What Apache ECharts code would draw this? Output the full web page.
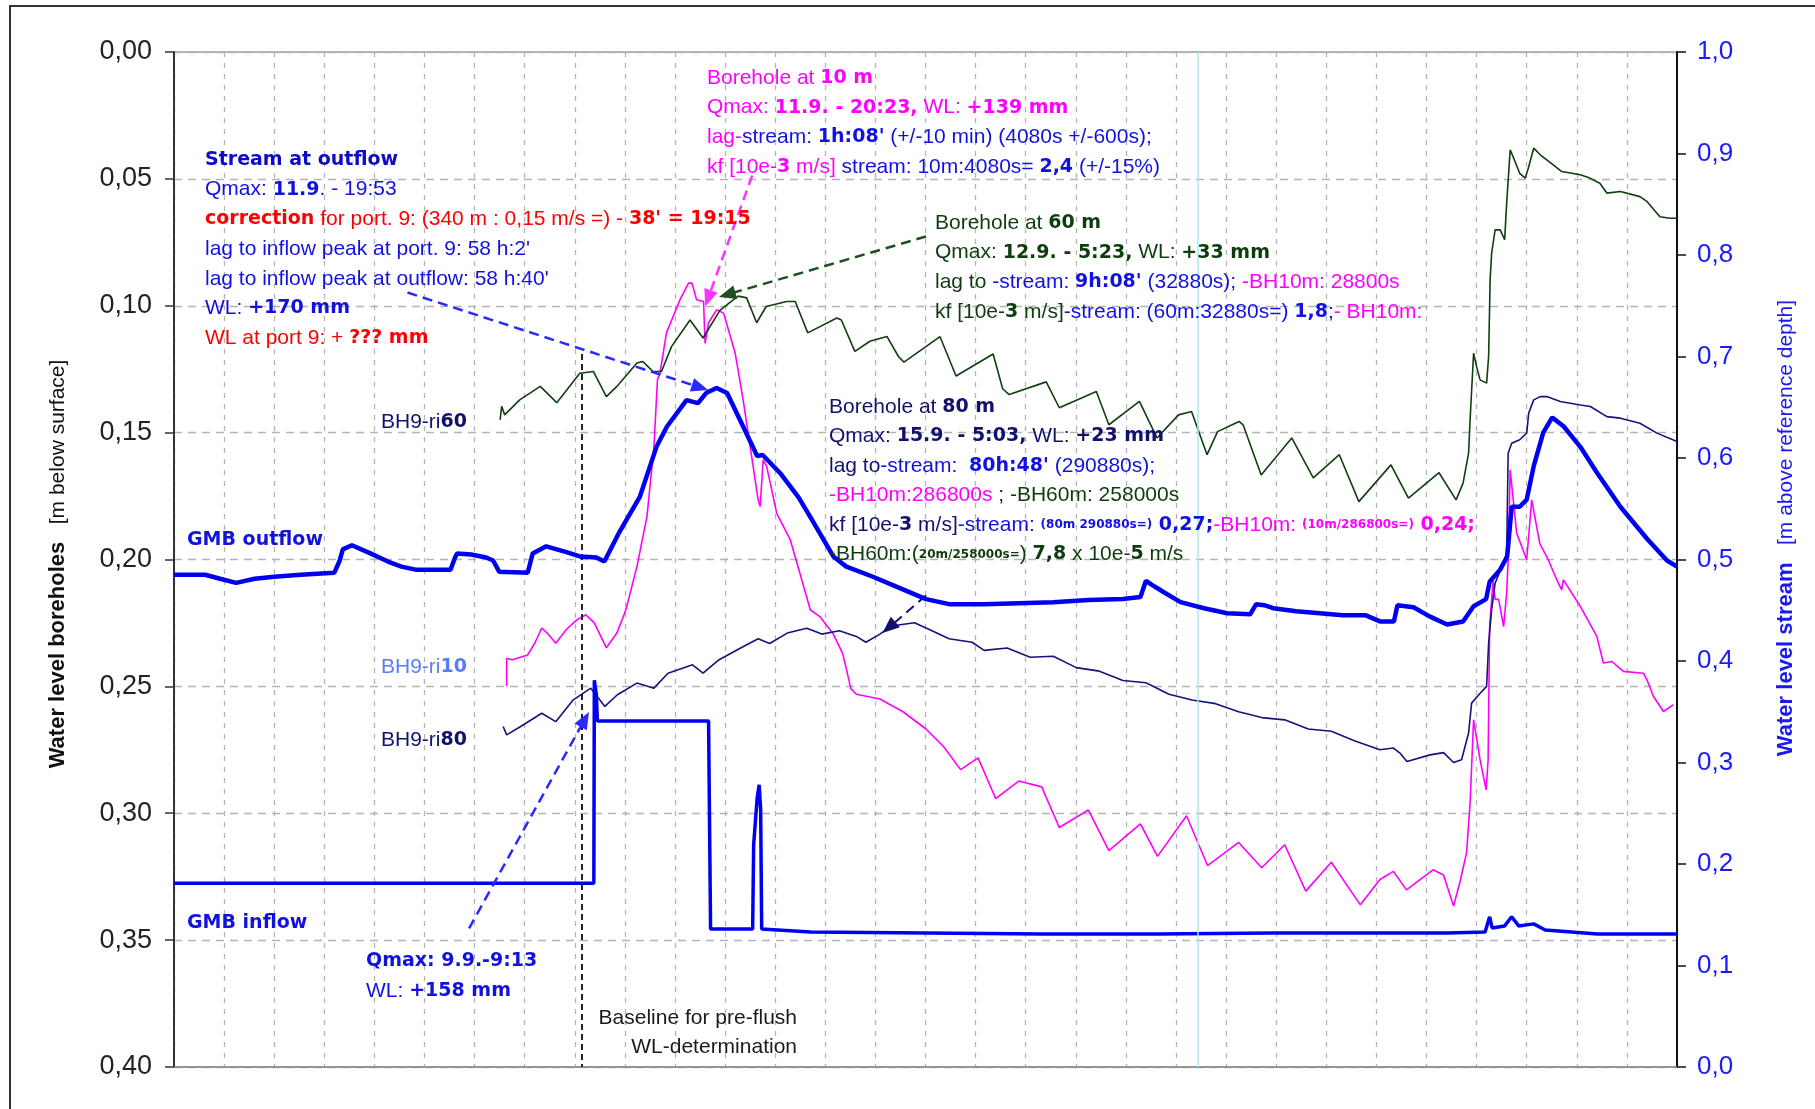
<!DOCTYPE html>
<html>
<head>
<meta charset="utf-8">
<script src="https://cdn.jsdelivr.net/npm/echarts@6/dist/echarts.min.js"></script>
<style>
  html, body { margin: 0; padding: 0; background: #fff; }
  #chart { width: 1815px; height: 1109px; }
</style>
</head>
<body>
<div id="chart"></div>
<script>
// x: days since 1 Sep 00:00 (one grid column = one day)
// stream levels [m above reference depth]
const gmbOutflow = [[0,0.485],[0.62,0.485],[0.92,0.481],[1.24,0.477],[1.61,0.481],[2.00,0.483],[2.53,0.485],[3.20,0.487],[3.30,0.498],[3.37,0.510],[3.55,0.514],[3.92,0.506],[4.27,0.498],[4.54,0.493],[4.82,0.490],[5.52,0.490],[5.61,0.502],[5.65,0.506],[5.93,0.505],[6.23,0.502],[6.37,0.499],[6.49,0.488],[7.06,0.487],[7.16,0.506],[7.43,0.513],[7.85,0.507],[8.10,0.503],[8.43,0.502],[8.59,0.498],[8.89,0.527],[9.30,0.562],[9.63,0.611],[9.84,0.631],[10.23,0.657],[10.46,0.654],[10.62,0.664],[10.83,0.669],[11.04,0.664],[11.36,0.631],[11.64,0.602],[11.75,0.603],[12.10,0.585],[12.47,0.561],[12.77,0.536],[13.16,0.503],[13.42,0.493],[13.95,0.483],[14.43,0.473],[15.01,0.461],[15.47,0.456],[16.17,0.456],[16.86,0.457],[17.55,0.458],[18.25,0.460],[18.94,0.461],[19.29,0.463],[19.40,0.479],[19.52,0.475],[19.75,0.468],[20.09,0.458],[20.56,0.452],[21.02,0.447],[21.48,0.446],[21.60,0.456],[21.76,0.455],[21.94,0.452],[22.40,0.449],[22.87,0.447],[23.33,0.445],[23.79,0.445],[24.07,0.439],[24.35,0.439],[24.42,0.455],[24.74,0.453],[25.06,0.444],[25.41,0.436],[25.73,0.439],[25.94,0.454],[26.19,0.461],[26.26,0.478],[26.47,0.490],[26.61,0.503],[26.70,0.552],[26.86,0.552],[27.00,0.559],[27.14,0.592],[27.33,0.625],[27.51,0.640],[27.74,0.631],[28.07,0.611],[28.41,0.585],[28.87,0.552],[29.41,0.520],[29.80,0.499],[30,0.493]];

const gmbInflow = [[0,0.181],[8.38,0.181],[8.39,0.381],[8.43,0.367],[8.45,0.341],[10.67,0.341],[10.71,0.136],[11.55,0.136],[11.57,0.219],[11.64,0.265],[11.68,0.278],[11.71,0.253],[11.73,0.136],[12.70,0.133],[15.01,0.132],[17.32,0.131],[19.63,0.131],[21.94,0.132],[25.41,0.132],[26.17,0.133],[26.26,0.148],[26.31,0.137],[26.56,0.139],[26.70,0.148],[26.84,0.139],[27.14,0.141],[27.37,0.135],[28.41,0.131],[30,0.131]];

// borehole levels [m below surface]
const bh60 = [[6.51,0.1450],[6.54,0.1396],[6.60,0.1430],[6.90,0.1371],[7.31,0.1318],[7.64,0.1382],[8.10,0.1266],[8.37,0.1259],[8.63,0.1358],[8.84,0.1318],[9.24,0.1226],[9.36,0.1220],[9.56,0.1259],[9.73,0.1259],[9.93,0.1161],[10.30,0.1056],[10.56,0.1127],[10.90,0.1017],[11.26,0.0962],[11.43,0.0969],[11.63,0.1067],[11.82,0.1003],[12.23,0.0983],[12.40,0.0983],[12.65,0.1107],[13.23,0.1048],[13.32,0.1056],[13.59,0.1180],[13.89,0.1140],[14.23,0.1121],[14.46,0.1200],[14.57,0.1222],[15.29,0.1122],[15.61,0.1277],[16.35,0.1190],[16.54,0.1327],[16.67,0.1350],[17.41,0.1300],[17.67,0.1402],[18.41,0.1338],[18.66,0.1469],[19.27,0.1377],[19.62,0.1521],[20.05,0.1430],[20.31,0.1417],[20.62,0.1587],[20.83,0.1496],[21.26,0.1456],[21.34,0.1469],[21.70,0.1667],[22.31,0.1521],[22.74,0.1678],[23.26,0.1587],[23.65,0.1772],[24.29,0.1627],[24.64,0.1758],[25.25,0.1658],[25.59,0.1765],[25.73,0.1699],[25.84,0.1581],[25.87,0.1450],[25.94,0.1187],[26.00,0.1240],[26.07,0.1292],[26.20,0.1305],[26.24,0.1200],[26.27,0.0898],[26.30,0.0793],[26.37,0.0701],[26.47,0.0701],[26.56,0.0740],[26.60,0.0596],[26.67,0.0386],[26.70,0.0399],[26.86,0.0478],[26.97,0.0497],[27.04,0.0452],[27.14,0.0379],[27.27,0.0405],[27.53,0.0445],[27.70,0.0471],[28.07,0.0484],[28.26,0.0497],[28.46,0.0517],[28.60,0.0556],[28.87,0.0550],[29.26,0.0570],[29.40,0.0589],[29.66,0.0649],[29.86,0.0655],[30,0.0655]];

const bh10 = [[6.64,0.2499],[6.64,0.2390],[6.75,0.2395],[7.06,0.2376],[7.20,0.2330],[7.34,0.2270],[7.45,0.2290],[7.62,0.2330],[7.83,0.2276],[8.04,0.2238],[8.22,0.2218],[8.39,0.2250],[8.63,0.2348],[8.84,0.2290],[9.02,0.2198],[9.24,0.2028],[9.44,0.1831],[9.58,0.1555],[9.65,0.1291],[9.70,0.1266],[9.83,0.1107],[10.10,0.0976],[10.27,0.0911],[10.34,0.0911],[10.43,0.0976],[10.57,0.0983],[10.60,0.1148],[10.67,0.1067],[10.83,0.1016],[10.97,0.1029],[11.20,0.1186],[11.36,0.1371],[11.50,0.1555],[11.66,0.1765],[11.70,0.1791],[11.76,0.1607],[11.83,0.1633],[12.03,0.1818],[12.30,0.1922],[12.49,0.2052],[12.70,0.2198],[12.89,0.2225],[13.16,0.2294],[13.35,0.2372],[13.51,0.2509],[13.62,0.2531],[14.09,0.2550],[14.55,0.2600],[15.01,0.2668],[15.36,0.2737],[15.70,0.2828],[16.05,0.2782],[16.40,0.2942],[16.86,0.2873],[17.32,0.2896],[17.67,0.3056],[18.25,0.2987],[18.66,0.3147],[19.29,0.3042],[19.63,0.3170],[20.21,0.3010],[20.63,0.3206],[21.25,0.3115],[21.71,0.3215],[22.17,0.3124],[22.59,0.3307],[23.10,0.3193],[23.68,0.3361],[24.07,0.3261],[24.34,0.3229],[24.60,0.3302],[25.13,0.3223],[25.34,0.3243],[25.54,0.3366],[25.67,0.3269],[25.80,0.3156],[25.87,0.2960],[25.94,0.2632],[26.07,0.2790],[26.19,0.2908],[26.23,0.2790],[26.26,0.2264],[26.33,0.2080],[26.37,0.2157],[26.44,0.2157],[26.54,0.2264],[26.60,0.2133],[26.63,0.2001],[26.67,0.1647],[26.80,0.1896],[27.00,0.2001],[27.10,0.1765],[27.26,0.1936],[27.43,0.2001],[27.60,0.2080],[27.70,0.2120],[27.73,0.2080],[28.07,0.2185],[28.40,0.2303],[28.53,0.2408],[28.70,0.2402],[28.93,0.2441],[29.33,0.2448],[29.40,0.2474],[29.53,0.2540],[29.73,0.2599],[29.93,0.2572]];

const bh80 = [[6.57,0.2658],[6.64,0.2691],[6.92,0.2658],[7.34,0.2606],[7.62,0.2639],[7.97,0.2553],[8.32,0.2507],[8.60,0.2579],[8.85,0.2533],[9.24,0.2487],[9.58,0.2507],[9.86,0.2448],[10.35,0.2415],[10.56,0.2448],[10.88,0.2395],[11.31,0.2349],[11.66,0.2312],[11.89,0.2331],[12.24,0.2290],[12.63,0.2271],[12.93,0.2294],[13.28,0.2281],[13.62,0.2303],[13.81,0.2326],[14.09,0.2294],[14.32,0.2262],[14.78,0.2249],[15.13,0.2281],[15.47,0.2312],[15.93,0.2326],[16.17,0.2358],[16.63,0.2349],[17.09,0.2385],[17.55,0.2381],[18.01,0.2426],[18.47,0.2440],[18.94,0.2477],[19.40,0.2486],[19.86,0.2531],[20.32,0.2554],[20.79,0.2568],[21.25,0.2600],[21.71,0.2623],[22.17,0.2632],[22.64,0.2668],[23.10,0.2677],[23.56,0.2714],[24.07,0.2750],[24.34,0.2743],[24.47,0.2763],[24.61,0.2796],[25.07,0.2770],[25.34,0.2761],[25.54,0.2800],[25.70,0.2789],[25.84,0.2684],[25.90,0.2566],[26.07,0.2527],[26.20,0.2500],[26.24,0.2330],[26.30,0.2198],[26.37,0.2093],[26.53,0.2015],[26.60,0.1975],[26.63,0.1581],[26.70,0.1542],[26.86,0.1528],[27.00,0.1502],[27.04,0.1423],[27.14,0.1371],[27.27,0.1358],[27.40,0.1358],[27.67,0.1377],[28.07,0.1391],[28.27,0.1397],[28.60,0.1437],[28.87,0.1443],[29.26,0.1463],[29.60,0.1502],[30,0.1535]];

// axis scales
const dayTicks = { min: 0, max: 30, step: 1 };
const boreholeTicks = [0, 0.05, 0.10, 0.15, 0.20, 0.25, 0.30, 0.35, 0.40];
const streamTicks = [0, 0.1, 0.2, 0.3, 0.4, 0.5, 0.6, 0.7, 0.8, 0.9, 1.0];

// event markers (day, depth)
const baselineDay = 8.14;
const baselineTop = 0.119;
const markerDay = 20.44;

const COL = {
  blue: '#1212e0', dblue: '#0c0cc8', red: '#ff0000', mag: '#ff00ff',
  grn: '#0d3d0d', nav: '#12126e', lblue: '#5a7cf5', blk: '#1a1a1a'
};
const SANS = '"Liberation Sans", Arial, sans-serif';
const BOLD = '"DejaVu Sans", Verdana, sans-serif';

const RICH = {};
Object.keys(COL).forEach(k => {
  RICH['n_' + k] = { fontFamily: SANS, fontSize: 21, fill: COL[k], verticalAlign: 'middle' };
  RICH['b_' + k] = { fontFamily: BOLD, fontWeight: 'bold', fontSize: 19, fill: COL[k], verticalAlign: 'middle' };
  RICH['s_' + k] = { fontFamily: BOLD, fontWeight: 'bold', fontSize: 12, fill: COL[k], verticalAlign: 'middle' };
});

function textLine(x, y, segs, align) {
  const text = segs.map(s => '{' + s[0] + '|' + s[1] + '}').join('');
  return {
    type: 'text', x: x, y: y, z: 100, silent: true,
    style: { text: text, rich: RICH, align: align || 'left', verticalAlign: 'middle' }
  };
}
function block(x, y0, dy, lines) {
  return lines.map((segs, i) => textLine(x, y0 + i * dy, segs));
}

const notes = [].concat(
  block(205, 160, 29.7, [
    [['b_dblue', 'Stream at outflow']],
    [['n_blue', 'Qmax: '], ['b_blue', '11.9'], ['n_blue', '. - 19:53']],
    [['b_red', 'correction'], ['n_red', ' for port. 9: (340 m : 0,15 m/s =) - '], ['b_red', "38' = 19:15"]],
    [['n_blue', "lag to inflow peak at port. 9: 58 h:2'"]],
    [['n_blue', "lag to inflow peak at outflow: 58 h:40'"]],
    [['n_blue', 'WL: '], ['b_blue', '+170 mm']],
    [['n_red', 'WL at port 9: + '], ['b_red', '??? mm']]
  ]),
  block(707, 78, 29.7, [
    [['n_mag', 'Borehole at '], ['b_mag', '10 m']],
    [['n_mag', 'Qmax: '], ['b_mag', '11.9. - 20:23,'], ['n_mag', ' WL: '], ['b_mag', '+139 mm']],
    [['n_mag', 'lag-'], ['n_blue', 'stream: '], ['b_blue', "1h:08'"], ['n_blue', ' (+/-10 min) (4080s +/-600s);']],
    [['n_mag', 'kf [10e-'], ['b_mag', '3'], ['n_mag', ' m/s]'], ['n_blue', ' stream: 10m:4080s= '], ['b_blue', '2,4'], ['n_blue', ' (+/-15%)']]
  ]),
  block(935, 223, 29.7, [
    [['n_grn', 'Borehole at '], ['b_grn', '60 m']],
    [['n_grn', 'Qmax: '], ['b_grn', '12.9. - 5:23,'], ['n_grn', ' WL: '], ['b_grn', '+33 mm']],
    [['n_grn', 'lag to '], ['n_blue', '-stream: '], ['b_blue', "9h:08'"], ['n_blue', ' (32880s); '], ['n_mag', '-BH10m: 28800s']],
    [['n_grn', 'kf [10e-'], ['b_grn', '3'], ['n_grn', ' m/s]'], ['n_blue', '-stream: (60m:32880s=) '], ['b_blue', '1,8'], ['n_blue', ';'], ['n_mag', '- BH10m:']]
  ]),
  block(829, 407, 29.5, [
    [['n_nav', 'Borehole at '], ['b_nav', '80 m']],
    [['n_nav', 'Qmax: '], ['b_nav', '15.9. - 5:03,'], ['n_nav', ' WL: '], ['b_nav', '+23 mm']],
    [['n_nav', 'lag to'], ['n_blue', '-stream:  '], ['b_blue', "80h:48'"], ['n_blue', ' (290880s);']],
    [['n_mag', '-BH10m:286800s'], ['n_nav', ' ; '], ['n_grn', '-BH60m: 258000s']],
    [['n_nav', 'kf [10e-'], ['b_nav', '3'], ['n_nav', ' m/s]'], ['n_blue', '-stream: '], ['s_blue', '(80m 290880s=)'], ['b_blue', ' 0,27;'], ['n_mag', '-BH10m: '], ['s_mag', '(10m/286800s=)'], ['b_mag', ' 0,24;']],
    [['n_grn', '-BH60m:('], ['s_grn', '20m/258000s='], ['n_grn', ') '], ['b_grn', '7,8'], ['n_grn', ' x 10e-'], ['b_grn', '5'], ['n_grn', ' m/s']]
  ]),
  [
    textLine(381, 422, [['n_nav', 'BH9-ri'], ['b_nav', '60']]),
    textLine(187, 540, [['b_blue', 'GMB outflow']]),
    textLine(381, 667, [['n_lblue', 'BH9-ri'], ['b_lblue', '10']]),
    textLine(381, 740, [['n_nav', 'BH9-ri'], ['b_nav', '80']]),
    textLine(187, 923, [['b_blue', 'GMB inflow']]),
    textLine(366, 961, [['b_blue', 'Qmax: 9.9.-9:13']]),
    textLine(366, 991, [['n_blue', 'WL: '], ['b_blue', '+158 mm']]),
    textLine(797, 1018, [['n_blk', 'Baseline for pre-flush']], 'right'),
    textLine(797, 1047, [['n_blk', 'WL-determination']], 'right')
  ]
);

// rotated axis titles and the outer frame (left and top edges)
const titles = [
  {
    type: 'text', x: 58, y: 564, rotation: Math.PI / 2, z: 100, silent: true,
    style: {
      text: '{b|Water level boreholes}{n|   [m below surface]}',
      align: 'center', verticalAlign: 'middle',
      rich: {
        b: { fontFamily: SANS, fontWeight: 'bold', fontSize: 22, fill: '#111' },
        n: { fontFamily: SANS, fontSize: 21, fill: '#111' }
      }
    }
  },
  {
    type: 'text', x: 1786, y: 528, rotation: Math.PI / 2, z: 100, silent: true,
    style: {
      text: '{b|Water level stream}{n|   [m above reference depth]}',
      align: 'center', verticalAlign: 'middle',
      rich: {
        b: { fontFamily: SANS, fontWeight: 'bold', fontSize: 22, fill: '#1a1af0' },
        n: { fontFamily: SANS, fontSize: 21, fill: '#1a1af0' }
      }
    }
  },
  {
    type: 'polyline', z: -1, silent: true,
    shape: { points: [[10, 1109], [10, 6], [1815, 6]] },
    style: { fill: 'none', stroke: '#333', lineWidth: 2 }
  }
];

// dashed pointer from a note to its curve (day, depth coordinates)
function pointer(from, to, color, width) {
  return [
    { coord: from, symbol: 'none', lineStyle: { color: color, width: width || 2.5, type: [10, 6] } },
    { coord: to, symbol: 'triangle', symbolSize: [14, 17], itemStyle: { color: color } }
  ];
}

const chart = echarts.init(document.getElementById('chart'), null, { renderer: 'canvas' });
const lineBase = { type: 'line', showSymbol: false, symbol: 'none', animation: false, silent: true };

chart.setOption({
  animation: false,
  backgroundColor: '#ffffff',
  grid: { left: 174, right: 138, top: 52, bottom: 42, show: true, borderColor: '#9a9a9a', borderWidth: 1.5 },
  xAxis: {
    type: 'value', min: dayTicks.min, max: dayTicks.max, interval: dayTicks.step,
    axisLine: { show: true, onZero: false, lineStyle: { color: '#8a8a8a', width: 1.5 } },
    axisTick: { show: false }, axisLabel: { show: false },
    splitLine: { show: true, lineStyle: { color: '#b4b4b4', type: [5, 6], width: 1.3 } }
  },
  yAxis: [
    {
      type: 'value', inverse: true, position: 'left',
      min: boreholeTicks[0], max: boreholeTicks[boreholeTicks.length - 1],
      interval: boreholeTicks[1] - boreholeTicks[0],
      axisLine: { show: true, lineStyle: { color: '#333', width: 2 } },
      axisTick: { show: true, inside: false, length: 9, lineStyle: { color: '#333', width: 1.5 } },
      axisLabel: {
        margin: 22, fontSize: 27, color: '#222', fontFamily: SANS,
        formatter: v => v.toFixed(2).replace('.', ',')
      },
      splitLine: { show: true, lineStyle: { color: '#b4b4b4', type: [8, 6], width: 1.3 } }
    },
    {
      type: 'value', position: 'right',
      min: streamTicks[0], max: streamTicks[streamTicks.length - 1],
      interval: streamTicks[1] - streamTicks[0],
      axisLine: { show: true, lineStyle: { color: '#111', width: 2 } },
      axisTick: { show: true, inside: false, length: 9, lineStyle: { color: '#111', width: 1.5 } },
      axisLabel: {
        margin: 20, fontSize: 26, color: '#1a1aff', fontFamily: SANS,
        formatter: v => v.toFixed(1).replace('.', ',')
      },
      splitLine: { show: false }
    }
  ],
  series: [
    Object.assign({}, lineBase, {
      name: 'BH9-ri10', yAxisIndex: 0, data: bh10, z: 3,
      lineStyle: { color: '#ff00ff', width: 1.6 }
    }),
    Object.assign({}, lineBase, {
      name: 'BH9-ri80', yAxisIndex: 0, data: bh80, z: 3,
      lineStyle: { color: '#14147a', width: 1.6 }
    }),
    Object.assign({}, lineBase, {
      name: 'BH9-ri60', yAxisIndex: 0, data: bh60, z: 3,
      lineStyle: { color: '#0f3f0f', width: 1.6 },
      markLine: {
        silent: true, animation: false, label: { show: false },
        emphasis: { disabled: true },
        data: [
          [
            { coord: [baselineDay, baselineTop], symbol: 'none', lineStyle: { color: '#222', width: 2, type: [6, 4] } },
            { coord: [baselineDay, boreholeTicks[boreholeTicks.length - 1]], symbol: 'none' }
          ],
          [
            { coord: [markerDay, boreholeTicks[0]], symbol: 'none', lineStyle: { color: '#a6ecf0', width: 1.5, type: 'solid' } },
            { coord: [markerDay, boreholeTicks[boreholeTicks.length - 1]], symbol: 'none' }
          ],
          pointer([4.66, 0.0948], [10.50, 0.1322], '#2a2aff'),
          pointer([11.54, 0.0487], [10.66, 0.0971], '#ff33ff'),
          pointer([15.01, 0.0727], [11.04, 0.0956], '#1f4f1f'),
          pointer([15.01, 0.2142], [14.27, 0.2268], '#12126e', 2),
          pointer([5.89, 0.3454], [8.20, 0.2630], '#2a2aff')
        ]
      }
    }),
    Object.assign({}, lineBase, {
      name: 'GMB inflow', yAxisIndex: 1, data: gmbInflow, z: 4,
      lineStyle: { color: '#0000f0', width: 3.5 }
    }),
    Object.assign({}, lineBase, {
      name: 'GMB outflow', yAxisIndex: 1, data: gmbOutflow, z: 5,
      lineStyle: { color: '#0000f0', width: 4.5 }
    })
  ],
  graphic: { elements: titles.concat(notes) }
});
</script>
</body>
</html>
